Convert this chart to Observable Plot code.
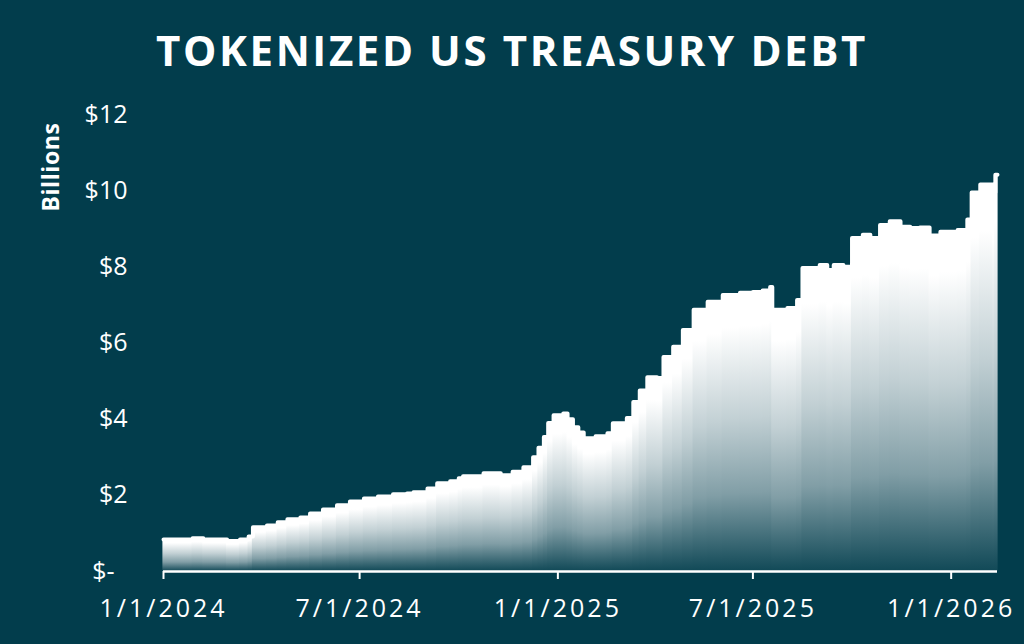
<!DOCTYPE html>
<html><head><meta charset="utf-8">
<script src="https://cdn.jsdelivr.net/npm/d3@7"></script>
<script src="https://cdn.jsdelivr.net/npm/@observablehq/plot@0.6"></script>
<style>
html,body{margin:0;padding:0;background:#023d4c;}
#wrap{position:relative;width:1024px;height:644px;overflow:hidden;background:#023d4c;font-family:"Open Sans",sans-serif;}
#title{position:absolute;left:0;top:22px;width:1024px;text-align:center;color:#fff;font-weight:700;font-size:42px;letter-spacing:2.6px;line-height:56px;white-space:nowrap;}
#ylabel{position:absolute;left:50px;top:167px;transform:translate(-50%,-50%) rotate(-90deg);color:#fff;font-weight:700;font-size:23px;letter-spacing:0.6px;white-space:nowrap;line-height:26px;}
#chart{position:absolute;left:0;top:90px;}
.tusd g[aria-label="x-axis tick label"] text{letter-spacing:3px;}
</style></head><body>
<div id="wrap">
  <div id="title">TOKENIZED US TREASURY DEBT</div>
  <div id="ylabel">Billions</div>
  <div id="chart"></div>
</div>
<script>
const dates = [
  "2024-01-01","2024-01-28","2024-02-07","2024-02-29","2024-03-12","2024-03-20","2024-03-24",
  "2024-04-06","2024-04-16","2024-04-25","2024-05-07","2024-05-16","2024-05-28","2024-06-10",
  "2024-06-22","2024-07-05","2024-07-18","2024-08-01","2024-08-14","2024-08-20","2024-09-02",
  "2024-09-11","2024-09-23","2024-10-01","2024-10-05","2024-10-24","2024-11-09","2024-11-20",
  "2024-11-30","2024-12-09","2024-12-14","2024-12-19","2024-12-23","2024-12-28","2025-01-06",
  "2025-01-10","2025-01-15","2025-01-20","2025-01-25","2025-02-05","2025-02-16","2025-02-21",
  "2025-03-06","2025-03-12","2025-03-18","2025-03-25","2025-04-03","2025-04-09","2025-04-18",
  "2025-04-27","2025-05-07","2025-05-20","2025-06-03","2025-06-19","2025-07-01","2025-07-10",
  "2025-07-17","2025-07-19","2025-08-02","2025-08-11","2025-08-16","2025-09-01","2025-09-08",
  "2025-09-14","2025-09-23","2025-10-01","2025-10-11","2025-10-18","2025-10-27","2025-11-05",
  "2025-11-15","2025-11-24","2025-12-03","2025-12-12","2025-12-22","2026-01-07","2026-01-16",
  "2026-01-20","2026-01-28","2026-02-06","2026-02-09","2026-02-11"
];
const values = [
  0.84,0.87,0.84,0.80,0.84,0.92,1.16,
  1.21,1.29,1.37,1.42,1.52,1.63,1.74,
  1.84,1.92,1.97,2.03,2.05,2.08,2.18,
  2.32,2.37,2.45,2.50,2.58,2.53,2.62,
  2.74,3.00,3.25,3.53,3.90,4.10,4.15,
  4.00,3.79,3.65,3.50,3.55,3.63,3.89,
  4.03,4.45,4.75,5.10,5.08,5.63,5.90,
  6.34,6.87,7.08,7.26,7.32,7.34,7.38,
  7.47,6.87,6.92,7.13,7.97,8.05,7.92,
  8.05,8.00,8.76,8.84,8.76,9.10,9.20,
  9.05,9.02,9.03,8.82,8.92,8.97,9.24,
  9.95,10.16,10.16,9.95,10.42
];
const endDate = "2026-02-13";
const yTicks = [0, 2, 4, 6, 8, 10, 12];
const yTickLabels = ["$-\u00a0\u00a0", "$2", "$4", "$6", "$8", "$10", "$12"];
const xTicks = ["2024-01-01", "2024-07-01", "2025-01-01", "2025-07-01", "2026-01-01"];
const xTickLabels = ["1/1/2024", "7/1/2024", "1/1/2025", "7/1/2025", "1/1/2026"];

const BG = "#023d4c";
const parse = d3.utcParse("%Y-%m-%d");
const rows = dates.map((d, i) => ({
  x1: parse(d),
  x2: parse(i + 1 < dates.length ? dates[i + 1] : endDate),
  v: values[i]
}));
const lineRows = rows.map(r => ({x: r.x1, v: r.v}))
  .concat([{x: parse(endDate), v: values[values.length - 1]}]);
const xTickDates = xTicks.map(parse);

const chart = Plot.plot({
  width: 1024,
  height: 554,
  marginLeft: 163,
  marginRight: 27,
  marginTop: 24,
  marginBottom: 73,
  className: "tusd",
  style: {background: "transparent", color: "#fff", fontFamily: "'Open Sans', sans-serif", fontSize: "25px", overflow: "visible"},
  x: {type: "utc", domain: [parse(dates[0]), parse(endDate)]},
  y: {domain: [0, 12]},
  marks: [
    Plot.rect(rows, {x1: "x1", x2: "x2", y1: 0, y2: "v", fill: "url(#colGrad)", insetLeft: -0.6, insetRight: -0.6}),
    Plot.lineY(lineRows, {x: "x", y: "v", curve: "step-after", stroke: "#fff", strokeWidth: 4, strokeLinejoin: "round", strokeLinecap: "round"}),
    Plot.axisY({ticks: yTicks, tickFormat: d => yTickLabels[yTicks.indexOf(d)], tickSize: 0, tickPadding: 36, fontSize: 25, fill: "#fff", label: null}),
    Plot.axisX({ticks: xTickDates, tickFormat: d => xTickLabels[xTickDates.findIndex(t => +t === +d)], tickSize: 8, tickPadding: 20, stroke: "#fff", strokeWidth: 2, fontSize: 25, fill: "#fff", label: null}),
    Plot.ruleY([0], {stroke: "#fff", strokeWidth: 2.5})
  ]
});

// per-column vertical gradient: white at each column's top fading to the background at its base (opaque stops)
const mix = d3.interpolateRgb(BG, "#ffffff");
const svg = d3.select(chart);
const defs = svg.insert("defs", ":first-child");
const g = defs.append("linearGradient").attr("id", "colGrad")
  .attr("x1", 0).attr("y1", 0).attr("x2", 0).attr("y2", 1);
[[0, 1], [0.12, 1], [0.45, 0.76], [0.72, 0.5], [1, 0.06]].forEach(([o, a]) =>
  g.append("stop").attr("offset", o).attr("stop-color", mix(a)));

document.getElementById("chart").appendChild(chart);
</script>
</body></html>
